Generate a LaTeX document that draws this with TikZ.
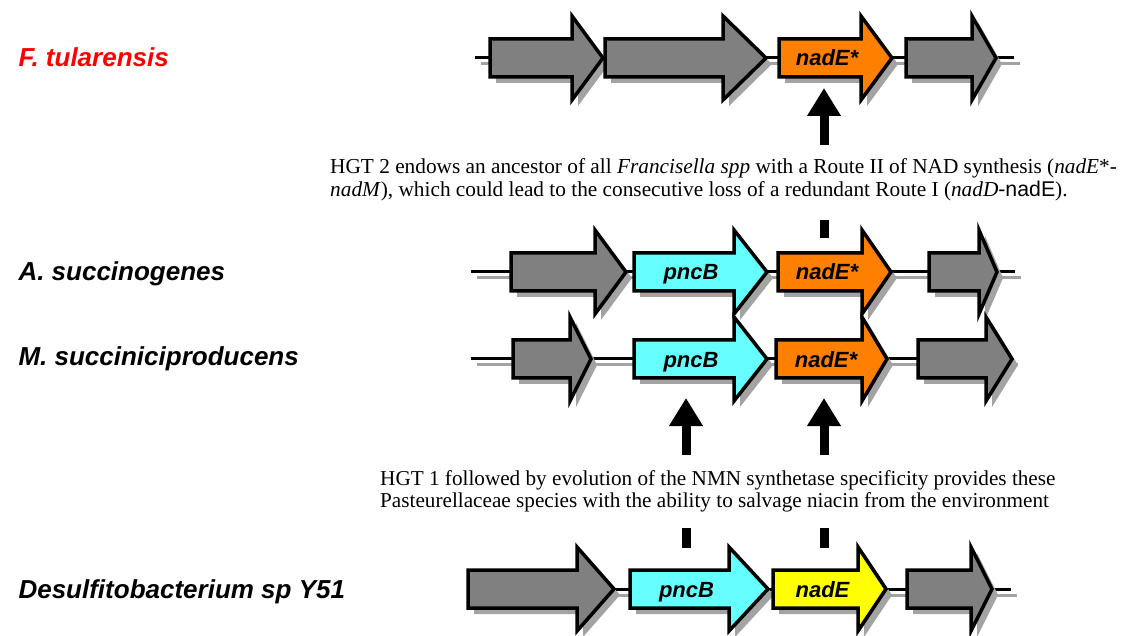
\documentclass[tikz,border=0pt]{standalone}
\usepackage{fontspec}
\setmainfont{Liberation Serif}
\setsansfont{Liberation Sans}
\usetikzlibrary{arrows.meta,positioning}
\definecolor{genegray}{HTML}{808080}
\definecolor{shadegray}{HTML}{A3A3A3}
\definecolor{pncbcyan}{HTML}{66FFFF}
\definecolor{nadeorange}{HTML}{FF8000}
\definecolor{nadeyellow}{HTML}{FFFF00}
\definecolor{speciesred}{HTML}{FF0000}
\tikzset{
  genebox/.style={draw=black,line width=3.5pt,line join=miter},
  geneshadow/.style={fill=shadegray},
  backbone/.style={draw=black,line width=3pt},
  backshadow/.style={draw=shadegray,line width=3pt},
  genelabel/.style={font=\fontsize{22}{22}\selectfont\sffamily\bfseries\itshape,
                    inner sep=0pt,text height=16pt,text depth=0pt,minimum height=38pt},
  species/.style={anchor=base west,font=\fontsize{26}{26}\selectfont\sffamily\bfseries\itshape},
  hgtnote/.style={anchor=base west,align=left,inner sep=0pt},
  hgtarr/.style={-{Triangle[width=32pt,length=28pt]},line width=9pt},
  hgtstub/.style={line width=9pt}
}
% gene arrow: name, y, left, head base, tip, fill, label
\newcommand{\gene}[7]{%
  \fill[geneshadow,shift={(6,6)}] (#3,{#2-19}) -- (#4,{#2-19}) -- (#4,{#2-42}) -- (#5,#2)
    -- (#4,{#2+42}) -- (#4,{#2+19}) -- (#3,{#2+19}) -- cycle;
  \draw[genebox,fill=#6] (#3,{#2-19}) -- (#4,{#2-19}) -- (#4,{#2-42}) -- (#5,#2)
    -- (#4,{#2+42}) -- (#4,{#2+19}) -- (#3,{#2+19}) -- cycle;
  \node[genelabel] (#1) at ({(#3+#4)/2+7},#2) {#7};
}
% chromosome backbone: y, left, right
\newcommand{\backbone}[3]{%
  \draw[backshadow,shift={(6,6)}] (#2,#1) -- (#3,#1);
  \draw[backbone] (#2,#1) -- (#3,#1);
}
\begin{document}
\begin{tikzpicture}[x=1pt,y=-1pt]
  \useasboundingbox (0,0) rectangle (1125,636);

  % species names
  \node[species,text=speciesred] (ftu) at (15,67) {F. tularensis};
  \node[species] (asu) at (15,281) {A. succinogenes};
  \node[species] (msu) at (15,366) {M. succiniciproducens};
  \node[species] (dsu) at (15,598) {Desulfitobacterium sp Y51};

  % F. tularensis
  \backbone{58}{475}{1014}
  \gene{ft1}{58}{490}{572}{603}{genegray}{}
  \gene{ft2}{58}{605}{723}{766}{genegray}{}
  \gene{ft3}{58}{779}{861}{892}{nadeorange}{nadE*}
  \gene{ft4}{58}{906}{972}{996}{genegray}{}

  % A. succinogenes
  \backbone{272}{471}{1015}
  \gene{as1}{272}{511}{595}{626}{genegray}{}
  \gene{as2}{272}{634}{734}{767}{pncbcyan}{pncB}
  \gene{as3}{272}{778}{862}{891}{nadeorange}{nadE*}
  \gene{as4}{272}{929}{979}{997}{genegray}{}

  % M. succiniciproducens
  \backbone{359}{471}{1012}
  \gene{ms1}{359}{513}{570}{591}{genegray}{}
  \gene{ms2}{359}{634}{734}{767}{pncbcyan}{pncB}
  \gene{ms3}{359}{776}{862}{887}{nadeorange}{nadE*}
  \gene{ms4}{359}{918}{986}{1012}{genegray}{}

  % Desulfitobacterium
  \backbone{589}{468}{1011}
  \gene{ds1}{589}{468}{577}{614}{genegray}{}
  \gene{ds2}{589}{630}{729}{768}{pncbcyan}{pncB}
  \gene{ds3}{589}{773}{858}{886}{nadeyellow}{nadE}
  \gene{ds4}{589}{907}{971}{992}{genegray}{}

  % HGT 2
  \coordinate (hgt2a) at (824,145);
  \coordinate (hgt2b) at (824,88);
  \draw[hgtarr] (hgt2a) -- (hgt2b);
  \node[hgtnote,font=\fontsize{21.3}{23}\selectfont] (hgt2txt) at (330,197)
    {HGT 2 endows an ancestor of all \textit{Francisella spp} with a Route II of NAD synthesis (\textit{nadE}*-\\
     \textit{nadM}), which could lead to the consecutive loss of a redundant Route I (\textit{nadD}\textsf{-nadE}).};
  \coordinate (hgt2c) at (824,220);
  \coordinate (hgt2d) at (824,238);
  \draw[hgtstub] (hgt2c) -- (hgt2d);

  % HGT 1
  \coordinate (hgt1a) at (686,455);
  \coordinate (hgt1b) at (686,398);
  \coordinate (hgt1c) at (824,455);
  \coordinate (hgt1d) at (824,398);
  \draw[hgtarr] (hgt1a) -- (hgt1b);
  \draw[hgtarr] (hgt1c) -- (hgt1d);
  \node[hgtnote,font=\fontsize{21.2}{22}\selectfont] (hgt1txt) at (380,507)
    {HGT 1 followed by evolution of the NMN synthetase specificity provides these\\
     Pasteurellaceae species with the ability to salvage niacin from the environment};
  \coordinate (hgt1e) at (686,528);
  \coordinate (hgt1f) at (686,548);
  \coordinate (hgt1g) at (824,528);
  \coordinate (hgt1h) at (824,548);
  \draw[hgtstub] (hgt1e) -- (hgt1f);
  \draw[hgtstub] (hgt1g) -- (hgt1h);
\end{tikzpicture}
\end{document}
